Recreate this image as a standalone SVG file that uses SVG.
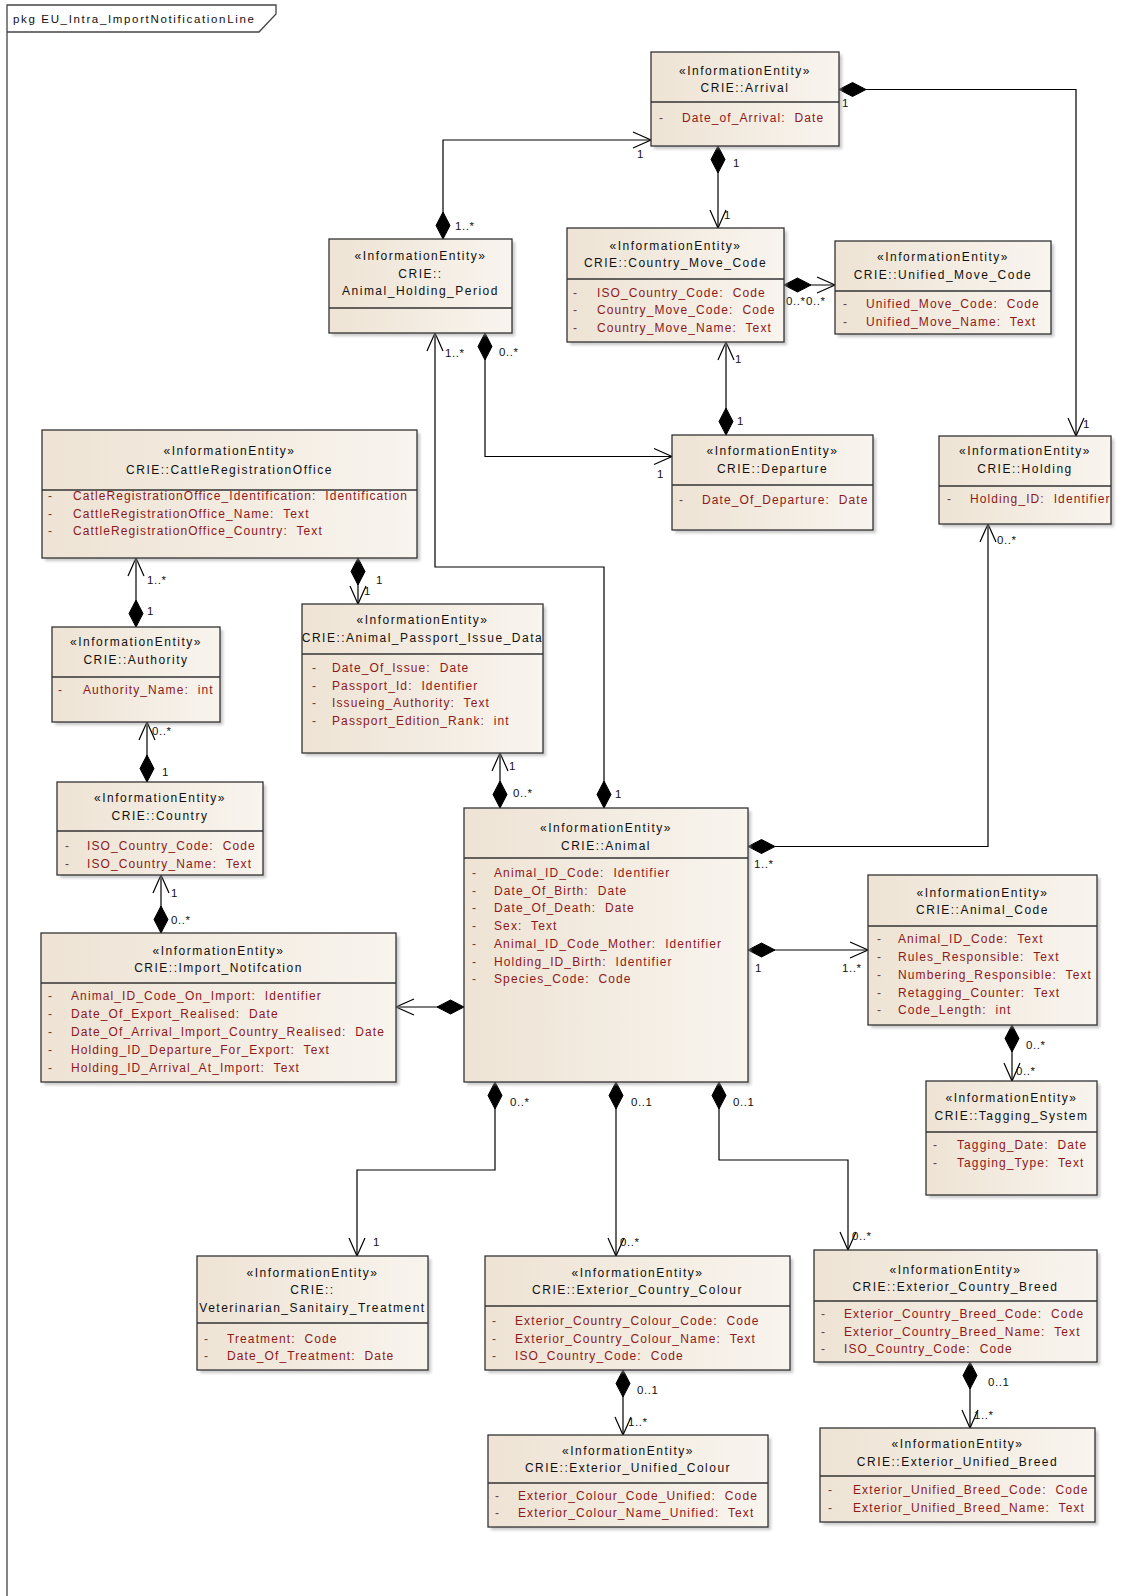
<svg xmlns="http://www.w3.org/2000/svg" width="1132" height="1596" viewBox="0 0 1132 1596">
<defs>
<linearGradient id="g" x1="0" y1="0" x2="1" y2="0">
<stop offset="0" stop-color="#eee3d4"/>
<stop offset="1" stop-color="#f8f4ee"/>
</linearGradient>
<filter id="blur" x="-10%" y="-10%" width="120%" height="120%"><feGaussianBlur stdDeviation="1.5"/></filter>
<clipPath id="holdclip"><rect x="939" y="436" width="171" height="88"/></clipPath>
<style>
text{font-family:"Liberation Sans",Arial,sans-serif;white-space:pre}
.bx{fill:url(#g);stroke:#333;stroke-width:1.3}
.sh{fill:#999;opacity:.55;filter:url(#blur)}
.sp{stroke:#333;stroke-width:1.3}
.t{font-size:12px;letter-spacing:1.5px;text-anchor:middle;fill:#111}
.a{font-size:12px;letter-spacing:1.1px;fill:#8b1a1a}
.d{font-size:12px;fill:#6b3a3a}
.ln{fill:none;stroke:#000;stroke-width:1.2}
.dm{fill:#000;stroke:#000;stroke-width:1}
.ar{fill:none;stroke:#000;stroke-width:1.2}
.m{font-size:11.5px;letter-spacing:.6px;fill:#111}
.fr{fill:none;stroke:#444;stroke-width:1.3}
.ft{font-size:11.5px;letter-spacing:1.65px;fill:#111}
</style>
</defs>
<rect width="1132" height="1596" fill="#fff"/>
<g id="frame">
<path class="fr" d="M7,1596 V5 H276 V14 L259,32 H7"/>
<text class="ft" x="13" y="23">pkg EU_Intra_ImportNotificationLine</text>
</g>

<g id="connectors">
<path class="ln" d="M443,239 V140 H651"/>
<polygon class="dm" points="443,239 436,225.5 443,212 450,225.5"/>
<polyline class="ar" points="633,132 651,140 633,148"/>
<text class="m" x="455" y="230">1..*</text>
<text class="m" x="637" y="158">1</text>
<path class="ln" d="M718,146 V228"/>
<polygon class="dm" points="718,146 711,159.5 718,173 725,159.5"/>
<polyline class="ar" points="710,210 718,228 726,210"/>
<text class="m" x="733" y="167">1</text>
<text class="m" x="724" y="219">1</text>
<path class="ln" d="M839,89.5 H1076 V436"/>
<polygon class="dm" points="839,89.5 852.5,82.5 866,89.5 852.5,96.5"/>
<polyline class="ar" points="1068,418 1076,436 1084,418"/>
<text class="m" x="842" y="107">1</text>
<text class="m" x="1083" y="428">1</text>
<path class="ln" d="M726,342 V435"/>
<polyline class="ar" points="718,360 726,342 734,360"/>
<polygon class="dm" points="726,435 719,421.5 726,408 733,421.5"/>
<text class="m" x="735" y="363">1</text>
<text class="m" x="737" y="425">1</text>
<path class="ln" d="M485,333 V456.5 H672"/>
<polygon class="dm" points="485,333 478,346.5 485,360 492,346.5"/>
<polyline class="ar" points="654,448.5 672,456.5 654,464.5"/>
<text class="m" x="499" y="356">0..*</text>
<text class="m" x="657" y="478">1</text>
<path class="ln" d="M435,333 V567 H604 V808"/>
<polyline class="ar" points="427,351 435,333 443,351"/>
<polygon class="dm" points="604,808 597,794.5 604,781 611,794.5"/>
<text class="m" x="445" y="357">1..*</text>
<text class="m" x="615" y="798">1</text>
<path class="ln" d="M136,558 V627"/>
<polyline class="ar" points="128,576 136,558 144,576"/>
<polygon class="dm" points="136,627 129,613.5 136,600 143,613.5"/>
<text class="m" x="147" y="584">1..*</text>
<text class="m" x="147" y="615">1</text>
<path class="ln" d="M147,722 V782"/>
<polyline class="ar" points="139,740 147,722 155,740"/>
<polygon class="dm" points="147,782 140,768.5 147,755 154,768.5"/>
<text class="m" x="152" y="735">0..*</text>
<text class="m" x="162" y="776">1</text>
<path class="ln" d="M161,875 V933"/>
<polyline class="ar" points="153,893 161,875 169,893"/>
<polygon class="dm" points="161,933 154,919.5 161,906 168,919.5"/>
<text class="m" x="171" y="897">1</text>
<text class="m" x="171" y="924">0..*</text>
<path class="ln" d="M358,558 V604"/>
<polygon class="dm" points="358,558 351,571.5 358,585 365,571.5"/>
<polyline class="ar" points="350,586 358,604 366,586"/>
<text class="m" x="376" y="584">1</text>
<text class="m" x="364" y="595">1</text>
<path class="ln" d="M500,753 V808"/>
<polyline class="ar" points="492,771 500,753 508,771"/>
<polygon class="dm" points="500,808 493,794.5 500,781 507,794.5"/>
<text class="m" x="509" y="770">1</text>
<text class="m" x="513" y="797">0..*</text>
<path class="ln" d="M464,1007 H396"/>
<polygon class="dm" points="464,1007 450.5,1000 437,1007 450.5,1014"/>
<polyline class="ar" points="414,999 396,1007 414,1015"/>
<path class="ln" d="M748,846.5 H988 V524"/>
<polygon class="dm" points="748,846.5 761.5,839.5 775,846.5 761.5,853.5"/>
<polyline class="ar" points="980,542 988,524 996,542"/>
<text class="m" x="754" y="868">1..*</text>
<text class="m" x="997" y="544">0..*</text>
<path class="ln" d="M748,950 H868"/>
<polygon class="dm" points="748,950 761.5,943 775,950 761.5,957"/>
<polyline class="ar" points="850,942 868,950 850,958"/>
<text class="m" x="755" y="972">1</text>
<text class="m" x="842" y="972">1..*</text>
<path class="ln" d="M1012,1025 V1081"/>
<polygon class="dm" points="1012,1025 1005,1038.5 1012,1052 1019,1038.5"/>
<polyline class="ar" points="1004,1063 1012,1081 1020,1063"/>
<text class="m" x="1026" y="1049">0..*</text>
<text class="m" x="1016" y="1075">0..*</text>
<path class="ln" d="M495,1082 V1170 H357 V1256"/>
<polygon class="dm" points="495,1082 488,1095.5 495,1109 502,1095.5"/>
<polyline class="ar" points="349,1238 357,1256 365,1238"/>
<text class="m" x="510" y="1106">0..*</text>
<text class="m" x="373" y="1246">1</text>
<path class="ln" d="M616,1082 V1256"/>
<polygon class="dm" points="616,1082 609,1095.5 616,1109 623,1095.5"/>
<polyline class="ar" points="608,1238 616,1256 624,1238"/>
<text class="m" x="631" y="1106">0..1</text>
<text class="m" x="620" y="1246">0..*</text>
<path class="ln" d="M719,1082 V1160 H848 V1250"/>
<polygon class="dm" points="719,1082 712,1095.5 719,1109 726,1095.5"/>
<polyline class="ar" points="840,1232 848,1250 856,1232"/>
<text class="m" x="733" y="1106">0..1</text>
<text class="m" x="852" y="1240">0..*</text>
<path class="ln" d="M623,1370 V1435"/>
<polygon class="dm" points="623,1370 616,1383.5 623,1397 630,1383.5"/>
<polyline class="ar" points="615,1417 623,1435 631,1417"/>
<text class="m" x="637" y="1394">0..1</text>
<text class="m" x="628" y="1426">1..*</text>
<path class="ln" d="M970,1362 V1428"/>
<polygon class="dm" points="970,1362 963,1375.5 970,1389 977,1375.5"/>
<polyline class="ar" points="962,1410 970,1428 978,1410"/>
<text class="m" x="988" y="1386">0..1</text>
<text class="m" x="974" y="1419">1..*</text>
<path class="ln" d="M784,285 H835"/>
<polygon class="dm" points="784,285 797.5,278 811,285 797.5,292"/>
<polyline class="ar" points="817,277 835,285 817,293"/>
<text class="m" x="786" y="305">0..*</text>
<text class="m" x="806" y="305">0..*</text>
</g>

<g id="n-arrival">
<rect class="sh" x="654" y="55" width="188" height="94"/>
<rect class="bx" x="651" y="52" width="188" height="94"/>
<line class="sp" x1="651" y1="102" x2="839" y2="102"/>
<text class="t" x="745" y="75">«InformationEntity»</text>
<text class="t" x="745" y="91.5">CRIE::Arrival</text>
<text class="d" x="659" y="121.5">-</text>
<text class="a" x="682" y="121.5">Date_of_Arrival:  Date</text>
</g>

<g id="n-animal-holding-period">
<rect class="sh" x="332" y="242" width="183" height="94"/>
<rect class="bx" x="329" y="239" width="183" height="94"/>
<line class="sp" x1="329" y1="308" x2="512" y2="308"/>
<text class="t" x="420.5" y="260">«InformationEntity»</text>
<text class="t" x="420.5" y="277.5">CRIE::</text>
<text class="t" x="420.5" y="295">Animal_Holding_Period</text>
</g>

<g id="n-country-move-code">
<rect class="sh" x="570" y="231" width="217" height="114"/>
<rect class="bx" x="567" y="228" width="217" height="114"/>
<line class="sp" x1="567" y1="279" x2="784" y2="279"/>
<text class="t" x="675.5" y="250">«InformationEntity»</text>
<text class="t" x="675.5" y="266.5">CRIE::Country_Move_Code</text>
<text class="d" x="573" y="296.5">-</text>
<text class="a" x="597" y="296.5">ISO_Country_Code:  Code</text>
<text class="d" x="573" y="314">-</text>
<text class="a" x="597" y="314">Country_Move_Code:  Code</text>
<text class="d" x="573" y="331.5">-</text>
<text class="a" x="597" y="331.5">Country_Move_Name:  Text</text>
</g>

<g id="n-unified-move-code">
<rect class="sh" x="838" y="244" width="216" height="93"/>
<rect class="bx" x="835" y="241" width="216" height="93"/>
<line class="sp" x1="835" y1="291" x2="1051" y2="291"/>
<text class="t" x="943" y="261">«InformationEntity»</text>
<text class="t" x="943" y="278.5">CRIE::Unified_Move_Code</text>
<text class="d" x="843" y="308">-</text>
<text class="a" x="866" y="308">Unified_Move_Code:  Code</text>
<text class="d" x="843" y="325.5">-</text>
<text class="a" x="866" y="325.5">Unified_Move_Name:  Text</text>
</g>

<g id="n-cattle-registration-office">
<rect class="sh" x="45" y="433" width="375" height="128"/>
<rect class="bx" x="42" y="430" width="375" height="128"/>
<line class="sp" x1="42" y1="490" x2="417" y2="490"/>
<text class="t" x="229.5" y="455">«InformationEntity»</text>
<text class="t" x="229.5" y="474">CRIE::CattleRegistrationOffice</text>
<text class="d" x="48" y="500">-</text>
<text class="a" x="73" y="500">CatleRegistrationOffice_Identification:  Identification</text>
<text class="d" x="48" y="517.5">-</text>
<text class="a" x="73" y="517.5">CattleRegistrationOffice_Name:  Text</text>
<text class="d" x="48" y="535">-</text>
<text class="a" x="73" y="535">CattleRegistrationOffice_Country:  Text</text>
</g>

<g id="n-authority">
<rect class="sh" x="55" y="630" width="168" height="95"/>
<rect class="bx" x="52" y="627" width="168" height="95"/>
<line class="sp" x1="52" y1="677" x2="220" y2="677"/>
<text class="t" x="136" y="645.5">«InformationEntity»</text>
<text class="t" x="136" y="664">CRIE::Authority</text>
<text class="d" x="58" y="693.5">-</text>
<text class="a" x="83" y="693.5">Authority_Name:  int</text>
</g>

<g id="n-animal-passport-issue-data">
<rect class="sh" x="305" y="607" width="241" height="149"/>
<rect class="bx" x="302" y="604" width="241" height="149"/>
<line class="sp" x1="302" y1="654" x2="543" y2="654"/>
<text class="t" x="422.5" y="623.5">«InformationEntity»</text>
<text class="t" x="422.5" y="642">CRIE::Animal_Passport_Issue_Data</text>
<text class="d" x="312" y="672">-</text>
<text class="a" x="332" y="672">Date_Of_Issue:  Date</text>
<text class="d" x="312" y="689.5">-</text>
<text class="a" x="332" y="689.5">Passport_Id:  Identifier</text>
<text class="d" x="312" y="707">-</text>
<text class="a" x="332" y="707">Issueing_Authority:  Text</text>
<text class="d" x="312" y="724.5">-</text>
<text class="a" x="332" y="724.5">Passport_Edition_Rank:  int</text>
</g>

<g id="n-country">
<rect class="sh" x="60" y="785" width="206" height="93"/>
<rect class="bx" x="57" y="782" width="206" height="93"/>
<line class="sp" x1="57" y1="831" x2="263" y2="831"/>
<text class="t" x="160" y="802">«InformationEntity»</text>
<text class="t" x="160" y="820">CRIE::Country</text>
<text class="d" x="65" y="850">-</text>
<text class="a" x="87" y="850">ISO_Country_Code:  Code</text>
<text class="d" x="65" y="867.5">-</text>
<text class="a" x="87" y="867.5">ISO_Country_Name:  Text</text>
</g>

<g id="n-import-notifcation">
<rect class="sh" x="44" y="936" width="355" height="149"/>
<rect class="bx" x="41" y="933" width="355" height="149"/>
<line class="sp" x1="41" y1="983" x2="396" y2="983"/>
<text class="t" x="218.5" y="955">«InformationEntity»</text>
<text class="t" x="218.5" y="972">CRIE::Import_Notifcation</text>
<text class="d" x="48" y="1000">-</text>
<text class="a" x="71" y="1000">Animal_ID_Code_On_Import:  Identifier</text>
<text class="d" x="48" y="1018">-</text>
<text class="a" x="71" y="1018">Date_Of_Export_Realised:  Date</text>
<text class="d" x="48" y="1036">-</text>
<text class="a" x="71" y="1036">Date_Of_Arrival_Import_Country_Realised:  Date</text>
<text class="d" x="48" y="1054">-</text>
<text class="a" x="71" y="1054">Holding_ID_Departure_For_Export:  Text</text>
<text class="d" x="48" y="1071.5">-</text>
<text class="a" x="71" y="1071.5">Holding_ID_Arrival_At_Import:  Text</text>
</g>

<g id="n-animal">
<rect class="sh" x="467" y="811" width="284" height="274"/>
<rect class="bx" x="464" y="808" width="284" height="274"/>
<line class="sp" x1="464" y1="858" x2="748" y2="858"/>
<text class="t" x="606" y="831.5">«InformationEntity»</text>
<text class="t" x="606" y="850">CRIE::Animal</text>
<text class="d" x="472" y="876.5">-</text>
<text class="a" x="494" y="876.5">Animal_ID_Code:  Identifier</text>
<text class="d" x="472" y="894.5">-</text>
<text class="a" x="494" y="894.5">Date_Of_Birth:  Date</text>
<text class="d" x="472" y="912">-</text>
<text class="a" x="494" y="912">Date_Of_Death:  Date</text>
<text class="d" x="472" y="930">-</text>
<text class="a" x="494" y="930">Sex:  Text</text>
<text class="d" x="472" y="947.5">-</text>
<text class="a" x="494" y="947.5">Animal_ID_Code_Mother:  Identifier</text>
<text class="d" x="472" y="965.5">-</text>
<text class="a" x="494" y="965.5">Holding_ID_Birth:  Identifier</text>
<text class="d" x="472" y="983">-</text>
<text class="a" x="494" y="983">Species_Code:  Code</text>
</g>

<g id="n-animal-code">
<rect class="sh" x="871" y="878" width="229" height="150"/>
<rect class="bx" x="868" y="875" width="229" height="150"/>
<line class="sp" x1="868" y1="926" x2="1097" y2="926"/>
<text class="t" x="982.5" y="896.5">«InformationEntity»</text>
<text class="t" x="982.5" y="914">CRIE::Animal_Code</text>
<text class="d" x="877" y="943">-</text>
<text class="a" x="898" y="943">Animal_ID_Code:  Text</text>
<text class="d" x="877" y="961">-</text>
<text class="a" x="898" y="961">Rules_Responsible:  Text</text>
<text class="d" x="877" y="978.5">-</text>
<text class="a" x="898" y="978.5">Numbering_Responsible:  Text</text>
<text class="d" x="877" y="996.5">-</text>
<text class="a" x="898" y="996.5">Retagging_Counter:  Text</text>
<text class="d" x="877" y="1014">-</text>
<text class="a" x="898" y="1014">Code_Length:  int</text>
</g>

<g id="n-tagging-system">
<rect class="sh" x="929" y="1084" width="171" height="114"/>
<rect class="bx" x="926" y="1081" width="171" height="114"/>
<line class="sp" x1="926" y1="1132" x2="1097" y2="1132"/>
<text class="t" x="1011.5" y="1102">«InformationEntity»</text>
<text class="t" x="1011.5" y="1120">CRIE::Tagging_System</text>
<text class="d" x="933" y="1149">-</text>
<text class="a" x="957" y="1149">Tagging_Date:  Date</text>
<text class="d" x="933" y="1166.5">-</text>
<text class="a" x="957" y="1166.5">Tagging_Type:  Text</text>
</g>

<g id="n-departure">
<rect class="sh" x="675" y="438" width="201" height="95"/>
<rect class="bx" x="672" y="435" width="201" height="95"/>
<line class="sp" x1="672" y1="485" x2="873" y2="485"/>
<text class="t" x="772.5" y="455">«InformationEntity»</text>
<text class="t" x="772.5" y="473">CRIE::Departure</text>
<text class="d" x="679" y="503.5">-</text>
<text class="a" x="702" y="503.5">Date_Of_Departure:  Date</text>
</g>

<g id="n-holding">
<rect class="sh" x="942" y="439" width="172" height="88"/>
<rect class="bx" x="939" y="436" width="172" height="88"/>
<line class="sp" x1="939" y1="486" x2="1111" y2="486"/>
<text class="t" x="1025" y="455">«InformationEntity»</text>
<text class="t" x="1025" y="473">CRIE::Holding</text>
<text class="d" x="947" y="503">-</text>
<text class="a" x="970" y="503" clip-path="url(#holdclip)">Holding_ID:  Identifier</text>
</g>

<g id="n-veterinarian-sanitairy-treatment">
<rect class="sh" x="200" y="1259" width="231" height="114"/>
<rect class="bx" x="197" y="1256" width="231" height="114"/>
<line class="sp" x1="197" y1="1323" x2="428" y2="1323"/>
<text class="t" x="312.5" y="1276.5">«InformationEntity»</text>
<text class="t" x="312.5" y="1293.5">CRIE::</text>
<text class="t" x="312.5" y="1311.5">Veterinarian_Sanitairy_Treatment</text>
<text class="d" x="204" y="1342.5">-</text>
<text class="a" x="227" y="1342.5">Treatment:  Code</text>
<text class="d" x="204" y="1360">-</text>
<text class="a" x="227" y="1360">Date_Of_Treatment:  Date</text>
</g>

<g id="n-exterior-country-colour">
<rect class="sh" x="488" y="1259" width="305" height="114"/>
<rect class="bx" x="485" y="1256" width="305" height="114"/>
<line class="sp" x1="485" y1="1306" x2="790" y2="1306"/>
<text class="t" x="637.5" y="1276.5">«InformationEntity»</text>
<text class="t" x="637.5" y="1293.5">CRIE::Exterior_Country_Colour</text>
<text class="d" x="492" y="1325">-</text>
<text class="a" x="515" y="1325">Exterior_Country_Colour_Code:  Code</text>
<text class="d" x="492" y="1342.5">-</text>
<text class="a" x="515" y="1342.5">Exterior_Country_Colour_Name:  Text</text>
<text class="d" x="492" y="1360">-</text>
<text class="a" x="515" y="1360">ISO_Country_Code:  Code</text>
</g>

<g id="n-exterior-unified-colour">
<rect class="sh" x="491" y="1438" width="280" height="92"/>
<rect class="bx" x="488" y="1435" width="280" height="92"/>
<line class="sp" x1="488" y1="1483" x2="768" y2="1483"/>
<text class="t" x="628" y="1455">«InformationEntity»</text>
<text class="t" x="628" y="1472">CRIE::Exterior_Unified_Colour</text>
<text class="d" x="495" y="1500">-</text>
<text class="a" x="518" y="1500">Exterior_Colour_Code_Unified:  Code</text>
<text class="d" x="495" y="1517">-</text>
<text class="a" x="518" y="1517">Exterior_Colour_Name_Unified:  Text</text>
</g>

<g id="n-exterior-country-breed">
<rect class="sh" x="817" y="1253" width="283" height="112"/>
<rect class="bx" x="814" y="1250" width="283" height="112"/>
<line class="sp" x1="814" y1="1301" x2="1097" y2="1301"/>
<text class="t" x="955.5" y="1274">«InformationEntity»</text>
<text class="t" x="955.5" y="1291">CRIE::Exterior_Country_Breed</text>
<text class="d" x="821" y="1318">-</text>
<text class="a" x="844" y="1318">Exterior_Country_Breed_Code:  Code</text>
<text class="d" x="821" y="1335.5">-</text>
<text class="a" x="844" y="1335.5">Exterior_Country_Breed_Name:  Text</text>
<text class="d" x="821" y="1353">-</text>
<text class="a" x="844" y="1353">ISO_Country_Code:  Code</text>
</g>

<g id="n-exterior-unified-breed">
<rect class="sh" x="823" y="1431" width="275" height="94"/>
<rect class="bx" x="820" y="1428" width="275" height="94"/>
<line class="sp" x1="820" y1="1476" x2="1095" y2="1476"/>
<text class="t" x="957.5" y="1448">«InformationEntity»</text>
<text class="t" x="957.5" y="1465.5">CRIE::Exterior_Unified_Breed</text>
<text class="d" x="828" y="1494">-</text>
<text class="a" x="853" y="1494">Exterior_Unified_Breed_Code:  Code</text>
<text class="d" x="828" y="1511.5">-</text>
<text class="a" x="853" y="1511.5">Exterior_Unified_Breed_Name:  Text</text>
</g>
</svg>
